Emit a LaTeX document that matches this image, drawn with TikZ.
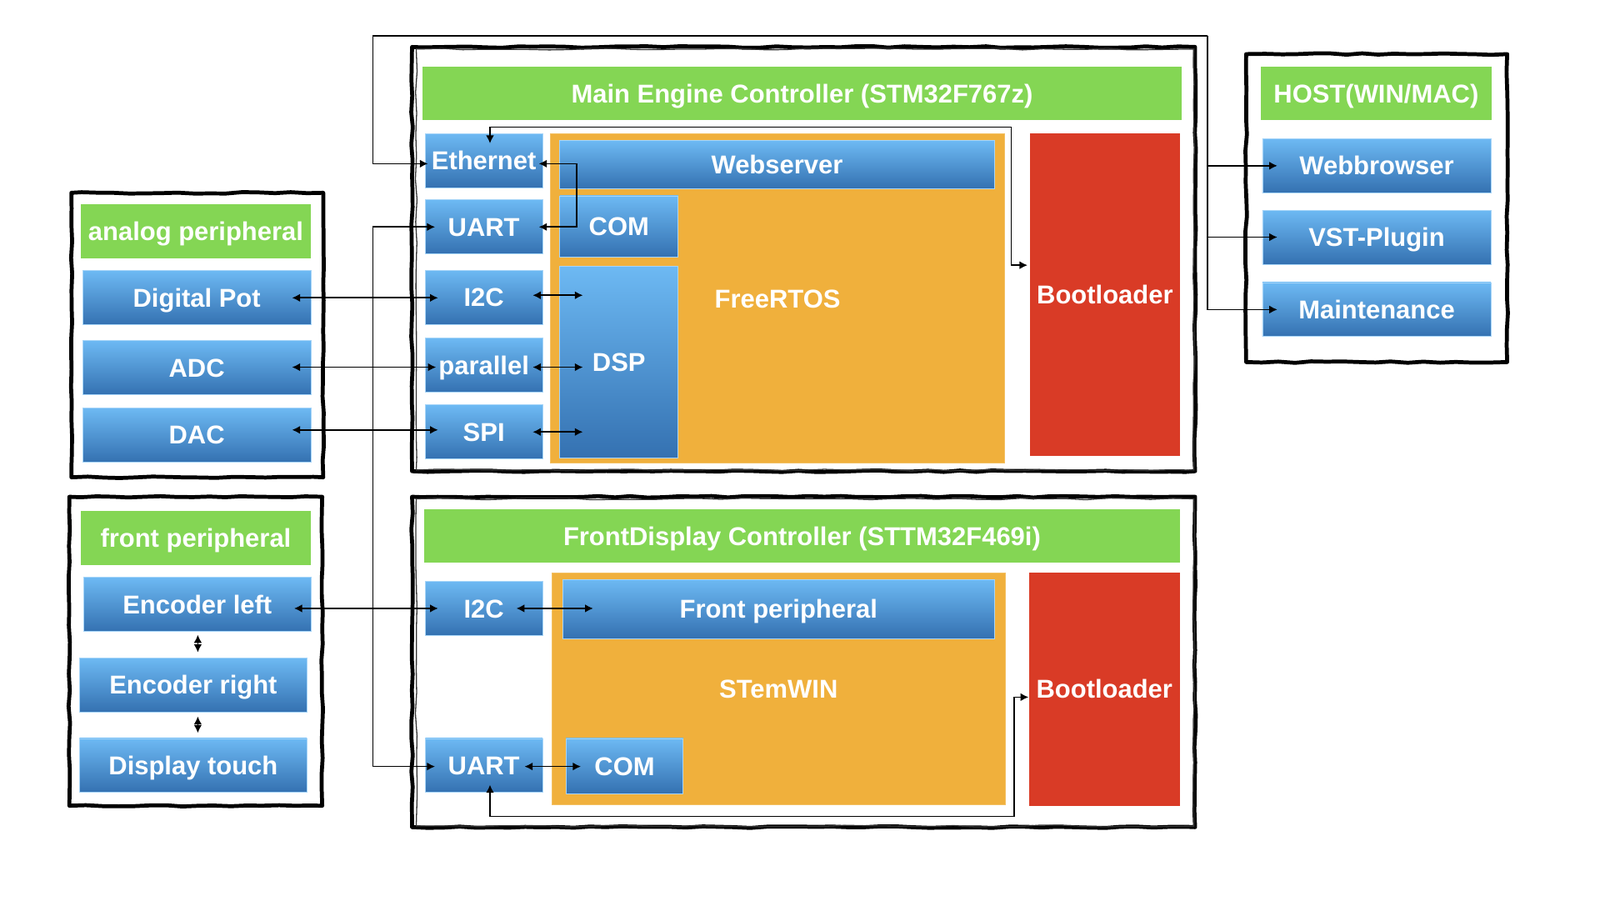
\documentclass[tikz,border=0pt]{standalone}
\usepackage{fontspec}
\setmainfont{Liberation Sans}
\usetikzlibrary{arrows.meta,calc,decorations.pathmorphing}
\definecolor{titlegreen}{HTML}{84D654}
\definecolor{rtosorange}{HTML}{F0B03C}
\definecolor{bootred}{HTML}{D93B26}
\definecolor{blocktop}{HTML}{6DB9F3}
\definecolor{blockbottom}{HTML}{3471B1}
\begin{document}
\begin{tikzpicture}[x=0.02cm,y=-0.02cm,>={Latex[length=4.5pt,width=4.5pt]},
  font=\bfseries\fontsize{14.4}{17}\selectfont]
\tikzstyle{frame}=[draw=black,line width=2.2pt,line join=round,decorate,
  decoration={random steps,segment length=9pt,amplitude=0.45pt}]
\tikzstyle{sketchline}=[draw=black!80,line width=0.6pt,decorate,
  decoration={random steps,segment length=12pt,amplitude=0.5pt}]
\tikzstyle{label}=[text=white,inner sep=0pt,text height=10.3pt,text depth=0pt]
\tikzstyle{title}=[rectangle,label,fill=titlegreen,minimum height=1.06cm]
\tikzstyle{os}=[rectangle,label,fill=rtosorange,draw=rtosorange!80!white]
\tikzstyle{boot}=[rectangle,label,fill=bootred]
\tikzstyle{block}=[rectangle,label,top color=blocktop,bottom color=blockbottom,draw=blocktop!60!white,
  line width=0.4pt]
\tikzstyle{port}=[block,minimum width=2.3cm,minimum height=1.06cm]
\tikzstyle{periph}=[block,minimum width=4.48cm,minimum height=1.06cm]
\tikzstyle{edge}=[draw,line width=0.8pt]
\useasboundingbox (0,0) rectangle (1569,883);
% frames
\node[frame,minimum width=15.36cm,minimum height=8.32cm] (mec) at (788,254) {};
\node[frame,minimum width=15.36cm,minimum height=6.48cm] (fdc) at (788,649) {};
\draw[sketchline] ($(mec.north west)+(6,4)$) rectangle ($(mec.south east)+(-3,-3)$);
\draw[sketchline] ($(fdc.north west)+(6,4)$) rectangle ($(fdc.south east)+(-3,-3)$);
\node[frame,minimum width=4.94cm,minimum height=5.58cm] (anabox) at (193.5,328.5) {};
\node[frame,minimum width=4.96cm,minimum height=6.06cm] (frontbox) at (192,638.5) {};
\node[frame,minimum width=5.12cm,minimum height=6.04cm] (hostbox) at (1350,204) {};
% titles
\node[title,minimum width=14.9cm] (mectitle) at (786.5,91.5) {Main Engine Controller (STM32F767z)};
\node[title,minimum width=14.82cm] (fdctitle) at (786.5,525.5) {FrontDisplay Controller (STTM32F469i)};
\node[title,minimum width=4.52cm] (anatitle) at (192,226.5) {analog peripheral};
\node[title,minimum width=4.52cm] (fronttitle) at (192,527.5) {front peripheral};
\node[title,minimum width=4.54cm] (hosttitle) at (1349.5,91.5) {HOST(WIN/MAC)};
% operating systems and bootloaders
\node[os,minimum width=8.9cm,minimum height=6.46cm] (rtos) at (762.5,292.5) {FreeRTOS};
\node[os,minimum width=8.9cm,minimum height=4.54cm] (emwin) at (763.5,675.5) {STemWIN};
\node[boot,minimum width=2.94cm,minimum height=6.32cm] (boot1) at (1083.5,289) {Bootloader};
\node[boot,minimum width=2.96cm,minimum height=4.58cm] (boot2) at (1083,675.5) {Bootloader};
% main engine blocks
\node[port] (eth) at (474.5,157.5) {Ethernet};
\node[port] (uart1) at (474.5,222.5) {UART};
\node[port] (i2c1) at (474.5,291.5) {I2C};
\node[port] (par) at (474.5,358) {parallel};
\node[port] (spi) at (474.5,423.5) {SPI};
\node[block,minimum width=8.52cm,minimum height=0.94cm] (websrv) at (762,161.5) {Webserver};
\node[block,minimum width=2.32cm,minimum height=1.2cm] (com1) at (607,222) {COM};
\node[block,minimum width=2.32cm,minimum height=3.76cm] (dsp) at (607,355) {DSP};
% front display blocks
\node[port] (i2c2) at (474.5,596.5) {I2C};
\node[port] (uart2) at (474.5,750.5) {UART};
\node[block,minimum width=8.46cm,minimum height=1.16cm] (fp) at (763.5,597) {Front peripheral};
\node[block,minimum width=2.3cm,minimum height=1.08cm] (com2) at (612.5,751) {COM};
% peripherals and host
\node[periph] (dpot) at (193,292) {Digital Pot};
\node[periph] (adc) at (193,360.5) {ADC};
\node[periph] (dac) at (193,426.5) {DAC};
\node[periph,minimum width=4.46cm] (encl) at (193.5,592.5) {Encoder left};
\node[periph,minimum width=4.46cm] (encr) at (189.5,671.5) {Encoder right};
\node[periph,minimum width=4.46cm] (touch) at (189.5,750.5) {Display touch};
\node[periph] (web) at (1350,162.5) {Webbrowser};
\node[periph] (vst) at (1350,232.5) {VST-Plugin};
\node[periph] (maint) at (1350,303.5) {Maintenance};
% connections
\draw[edge,<->] ($(dpot.east)+(-19,0)$) -- ($(dpot.east -| i2c1.west)+(13,0)$);
\draw[edge,<->] ($(par.west -| adc.east)+(-19,2)$) -- ($(par.west)+(11,2)$);
\draw[edge,<->] ($(spi.west -| dac.east)+(-19,-2)$) -- ($(spi.west)+(13,-2)$);
\draw[edge,<->] ($(i2c1.east)+(-10,-2)$) -- ($(i2c1.east -| dsp.west)+(23,-2)$);
\draw[edge,<->] ($(par.east)+(-10,2)$) -- ($(par.east -| dsp.west)+(23,2)$);
\draw[edge,<->] ($(spi.east)+(-10,0)$) -- ($(spi.east -| dsp.west)+(23,0)$);
\draw[edge,<->] ($(eth.east)+(-4,3)$) -| ($(uart1.east)+(33,0)$) -- ($(uart1.east)+(-4,0)$);
\draw[edge,<->] ($(eth.north)+(6,10)$) -- ++(0,-16) -| ($(boot1.west)+(-18,-29)$) -- ($(boot1.west)+(-2,-29)$);
\coordinate (hostbus) at (1184,35);
\draw[edge,->] (hostbus) -| ($(eth.west)+(-51,3)$) -- ($(eth.west)+(3,3)$);
\draw[edge,->] (hostbus) |- ($(maint.west)+(15,0)$);
\draw[edge,->] (hostbus |- web.west) -- ($(web.west)+(15,0)$);
\draw[edge,->] (hostbus |- vst.west) -- ($(vst.west)+(15,0)$);
\draw[edge,<->] ($(uart1.west)+(10,0)$) -- ++(-61,0) |- ($(uart2.west)+(10,1)$);
\draw[edge,<->] ($(i2c2.west -| encl.east)+(-17,0)$) -- ($(i2c2.west)+(13,0)$);
\draw[edge,<->] ($(i2c2.east)+(-26,0)$) -- ($(i2c2.east -| fp.west)+(30,0)$);
\draw[edge,<->] ($(uart2.east)+(-18,1)$) -- ($(uart2.east -| com2.west)+(15,1)$);
\draw[edge,<->] ($(uart2.south)+(6,-8)$) -- ++(0,31) -| ($(boot2.west)+(-14,8)$) -- ($(boot2.west)+(0,8)$);
\draw[edge,<->] ($(encl.south)+(0.5,3)$) -- ($(encl.south |- encr.north)+(0.5,-5)$);
\draw[edge,<->] ($(encr.south -| encl.south)+(0.5,4)$) -- ($(touch.north -| encl.south)+(0.5,-5)$);
\end{tikzpicture}
\end{document}
